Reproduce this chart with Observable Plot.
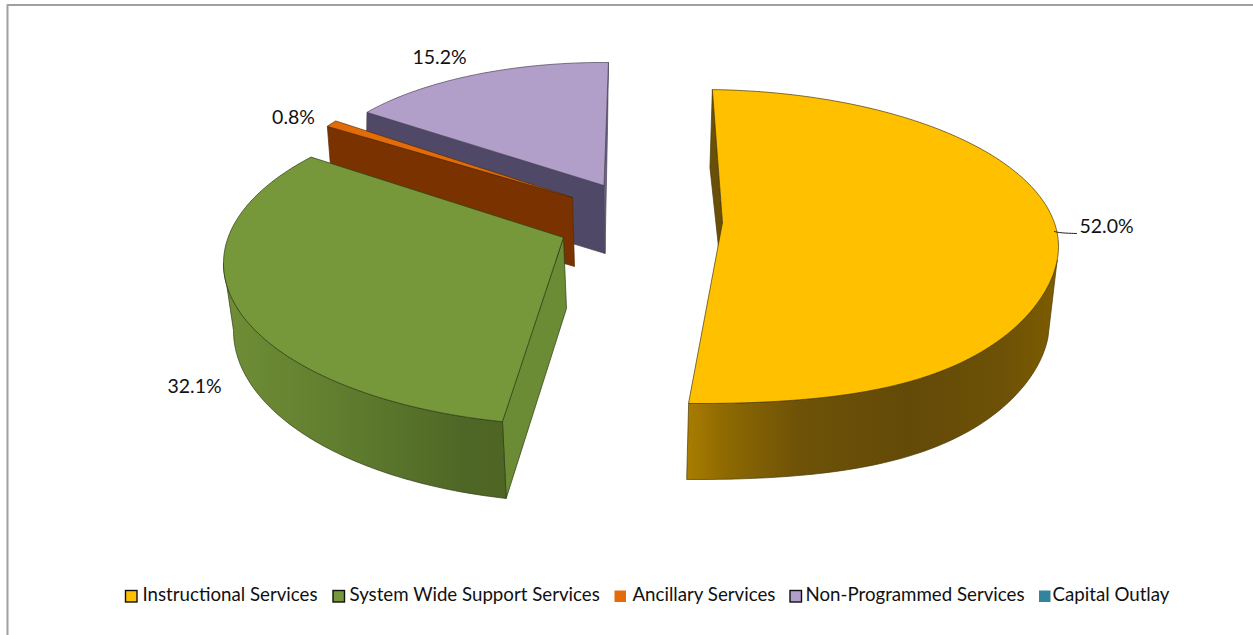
<!DOCTYPE html>
<html>
<head>
<meta charset="utf-8">
<script src="https://cdn.jsdelivr.net/npm/d3@7"></script>
<script src="https://cdn.jsdelivr.net/npm/@observablehq/plot@0.6"></script>
<style>
  html, body { margin: 0; padding: 0; background: #fff; }
  svg { display: block; }
</style>
</head>
<body>
<script>
// Expenditure shares by service category
const categories = ["Instructional Services", "System Wide Support Services", "Ancillary Services", "Non-Programmed Services", "Capital Outlay"];
const shares = [52.0, 32.1, 0.8, 15.2, 0];

const topColors = ["#FFC000", "#76983A", "#E36C09", "#B29FC9", "#31849B"];
const rimColors = ["#4a3a08", "#2e3c14", "#5a2c04", "#4a4458", "#1d5060"];
const legendSwatchX = [125.5, 333, 614.5, 790, 1039];
const legendTextX = [142, 349, 632, 805, 1052];
const legendStroked = [true, true, false, true, false];
const labelAnchors = [[1106, 226], [194, 386], [293, 117], [439, 57]];

// Excel-style exploded 3D pie: each wedge has its own projected top and floor ellipse.
// An ellipse is [cx, cy, rx, ry, sag]; sag lowers the front half to mimic the perspective.
const wedgeLayout = [
  { apex: [722, 222], floorApex: [724, 302], top: [700, 246, 358, 157, 8.5], floor: [697.8, 323, 351, 156, 8.5], phi0: 1.9, stretch: 0.9626, wall: [95, 181.9] },
  { apex: [563, 237], floorApex: [566, 308], top: [579, 263, 356, 162], floor: [581, 330, 348, 172], phi0: 192.5, stretch: 1.027, wall: [270, 192.5] },
  { apex: [572, 197], floorApex: [574, 266], top: [572, 197, 293, 130], floor: [575, 266, 290, 130], phi0: 303.2, stretch: 1 },
  { apex: [603.5, 185], floorApex: [604.5, 253], top: [602, 185, 293, 123], floor: [601, 253, 293, 123], phi0: 306.5, stretch: 1 }
];

const rad = Math.PI / 180;
const total = d3.sum(shares);
const onEllipse = ([cx, cy, rx, ry, sag = 0], phi) => {
  const c = Math.cos(phi * rad);
  const s = Math.sin(phi * rad);
  return { x: cx + rx * s, y: cy - ry * c + (c < 0 ? sag * (2 * s * c) ** 2 : 0) };
};

const wedges = wedgeLayout.map((l, i) => {
  const span = (shares[i] / total) * 360 * l.stretch;
  return { ...l, i, phiA: l.phi0, phiB: l.phi0 + span };
});

const arc = (ellipse, a, b) => {
  const n = Math.max(2, Math.ceil(Math.abs(b - a)));
  return d3.range(n + 1).map((k) => onEllipse(ellipse, a + ((b - a) * k) / n));
};
const pt = ([x, y]) => ({ x, y });
const closed = (pts) => [...pts, pts[0]];

const face = (pts, fill, stroke, strokeWidth = 0.7) =>
  Plot.line(closed(pts), { x: "x", y: "y", fill, stroke, strokeWidth, strokeLinejoin: "round" });

const wedgeTop = (w) => face([pt(w.apex), ...arc(w.top, w.phiA, w.phiB)], topColors[w.i], rimColors[w.i]);
const outerWall = (w, fill) =>
  face([...arc(w.top, w.wall[0], w.wall[1]), ...arc(w.floor, w.wall[1], w.wall[0])], fill, rimColors[w.i]);
const radialWall = (w, phi, fill) =>
  face([pt(w.apex), onEllipse(w.top, phi), onEllipse(w.floor, phi), pt(w.floorApex)], fill, rimColors[w.i]);

// Shading gradients for the curved walls, in chart coordinates
const gradients = () => {
  const defs = d3.create("svg:defs");
  const add = (id, x1, x2, stops) => {
    const g = defs.append("linearGradient").attr("id", id).attr("gradientUnits", "userSpaceOnUse")
      .attr("x1", x1).attr("x2", x2).attr("y1", 0).attr("y2", 0);
    stops.forEach(([o, c]) => g.append("stop").attr("offset", o).attr("stop-color", c));
  };
  add("wallGold", 686, 1057, [[0, "#a97d00"], [0.1, "#8f6a02"], [0.3, "#6e5207"], [0.6, "#634a08"], [0.85, "#6d5106"], [1, "#7d5d00"]]);
  add("wallGreen", 225, 504, [[0, "#6f8e36"], [0.45, "#5f7c2e"], [0.85, "#4f6726"], [1, "#4e6524"]]);
  return defs.node();
};

const [gold, green, orange, purple] = wedges;

const legendRows = categories.map((name, i) => ({
  name, x1: legendSwatchX[i], x2: legendSwatchX[i] + 11.5, y1: 590.5, y2: 602, tx: legendTextX[i], i
}));
const labelRows = labelAnchors.map(([x, y], i) => ({ x, y, text: shares[i].toFixed(1) + "%" }));
const frame = [{ x: 7, y: 635 }, { x: 7, y: 4.5 }, { x: 1253, y: 4.5 }];
const leader = [{ x: 1054, y: 231 }, { x: 1060, y: 232.5 }, { x: 1076, y: 233 }];

const chart = Plot.plot({
  width: 1253,
  height: 635,
  margin: 0,
  axis: null,
  x: { type: "linear", domain: [0, 1253], range: [0, 1253] },
  y: { type: "linear", domain: [0, 635], range: [0, 635] },
  style: { background: "#fff", fontFamily: "Lato, sans-serif" },
  marks: [
    gradients,
    Plot.line(frame, { x: "x", y: "y", stroke: "#a0a0a0", strokeWidth: 2 }),

    // Non-programmed wedge
    radialWall(purple, purple.phiA, "#4f4866"),
    radialWall(purple, purple.phiB, "#6d6682"),
    wedgeTop(purple),

    // Ancillary wedge
    radialWall(orange, orange.phiA, "#7a3200"),
    wedgeTop(orange),

    // System wide support wedge
    radialWall(green, green.phiA, "#6b8b34"),
    outerWall(green, "url(#wallGreen)"),
    wedgeTop(green),

    // Instructional wedge
    radialWall(gold, gold.phiA, "#6a4f06"),
    outerWall(gold, "url(#wallGold)"),
    wedgeTop(gold),

    Plot.line(leader, { x: "x", y: "y", stroke: "#222", strokeWidth: 1, curve: "basis" }),
    Plot.text(labelRows, { x: "x", y: "y", text: "text", fontSize: 19.5, fill: "#111" }),

    // Legend
    Plot.rect(legendRows, {
      x1: "x1", x2: "x2", y1: "y1", y2: "y2",
      fill: (d) => topColors[d.i],
      stroke: (d) => (legendStroked[d.i] ? "#111" : "none"),
      strokeWidth: 1.4
    }),
    Plot.text(legendRows, { x: "tx", y: 595, text: "name", textAnchor: "start", fontSize: 18.7, fill: "#111" })
  ]
});
document.body.appendChild(chart);
</script>
</body>
</html>
